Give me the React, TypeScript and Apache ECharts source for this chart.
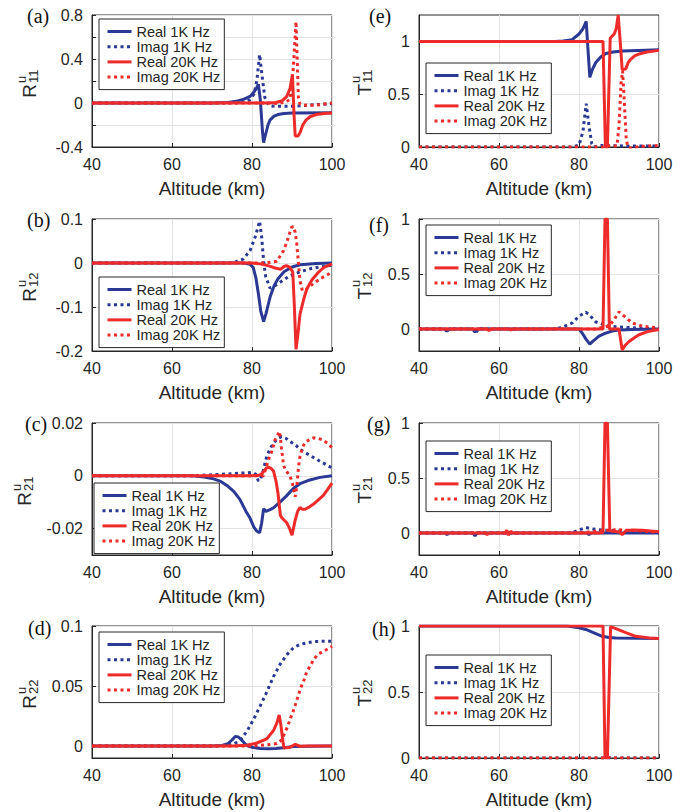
import React, { useEffect, useRef } from "react";
import * as echarts from "echarts";

// ---------- data (altitude km, value) ----------
const SERIES_NAMES = ["Real 1K Hz", "Imag 1K Hz", "Real 20K Hz", "Imag 20K Hz"];
const X_MIN = 40;
const X_MAX = 100;
const X_STEP = 20;

// (a) R11
const R11_re1k = [[40,0],[70,0],[74,0.005],[76,0.015],[78,0.035],[79.5,0.06],[80.5,0.1],[81.2,0.14],[81.6,0.17],[82.1,0.02],[82.6,-0.25],[82.9,-0.36],[83.3,-0.3],[84,-0.2],[84.5,-0.155],[85.5,-0.12],[86.5,-0.105],[88,-0.095],[90,-0.09],[100,-0.088]];
const R11_im1k = [[40,0],[76,0],[78,0.01],[79.5,0.03],[80.5,0.08],[81.2,0.2],[81.9,0.44],[82.5,0.25],[83.2,0.05],[83.8,0],[84.5,-0.025],[86,-0.03],[90,-0.03],[92,-0.025],[96,-0.015],[100,-0.005]];
const R11_re20k = [[40,0],[84,0],[86,0.005],[87.5,0.02],[88.7,0.06],[89.5,0.13],[90.1,0.26],[90.5,-0.1],[90.8,-0.3],[91.5,-0.3],[92,-0.27],[92.7,-0.2],[93.5,-0.155],[94.5,-0.125],[96,-0.105],[98,-0.095],[100,-0.09]];
const R11_im20k = [[40,0],[85,0],[86.5,-0.005],[88,0.005],[89.5,0.03],[90.3,0.3],[91,0.74],[91.6,0.05],[92,-0.01],[93,-0.02],[96,-0.02],[98,-0.01],[100,0]];
const R11_yTicks = [-0.4,-0.2,0,0.2,0.4,0.6,0.8];
const R11_yLabels = [-0.4,0,0.4,0.8];

// (b) R12
const R12_re1k = [[40,0],[78,0],[79.5,-0.003],[80.3,-0.01],[81,-0.035],[81.6,-0.07],[82.2,-0.11],[82.9,-0.133],[83.5,-0.115],[84.5,-0.078],[85.5,-0.052],[86.5,-0.036],[88,-0.02],[90,-0.009],[92,-0.004],[96,-0.001],[100,0]];
const R12_im1k = [[40,0],[74,0],[76,0.003],[77.8,0.009],[79.5,0.028],[80.8,0.059],[81.9,0.095],[82.4,0.06],[82.9,0.005],[83.4,-0.03],[84.5,-0.057],[85.5,-0.053],[87,-0.044],[89.5,-0.029],[92,-0.02],[95,-0.012],[100,-0.005]];
const R12_re20k = [[40,0],[80,0],[82,-0.002],[84,-0.006],[86,-0.012],[87.2,-0.014],[88,-0.008],[88.6,-0.006],[89.5,-0.01],[90.2,-0.021],[90.6,-0.1],[91,-0.196],[91.5,-0.16],[92,-0.116],[93,-0.08],[93.7,-0.059],[95,-0.038],[96.5,-0.022],[98,-0.01],[100,-0.002]];
const R12_im20k = [[40,0],[82,0],[84,0.001],[86.2,0.004],[87.9,0.028],[89,0.055],[89.8,0.08],[90.3,0.083],[90.8,0.07],[91.2,0.043],[91.7,-0.01],[92,-0.04],[92.6,-0.063],[93.5,-0.06],[94.6,-0.052],[97,-0.036],[100,-0.021]];
const R12_yTicks = [-0.2,-0.1,0,0.1];
const R12_yLabels = [-0.2,-0.1,0,0.1];

// (c) R21
const R21_re1k = [[40,0],[65,0],[68,-0.0005],[70,-0.001],[72,-0.002],[74,-0.004],[75.5,-0.006],[77,-0.009],[78.5,-0.0135],[79.5,-0.016],[80.5,-0.0195],[81.2,-0.021],[81.9,-0.0215],[82.4,-0.018],[82.9,-0.0125],[83.5,-0.0135],[84.5,-0.0128],[85.5,-0.012],[87,-0.01],[88.5,-0.0078],[90.4,-0.0047],[92,-0.003],[94,-0.0018],[97,-0.0006],[100,0]];
const R21_im1k = [[40,0],[65,0],[70,0.0004],[75,0.0008],[80.3,0.0013],[81,0.0005],[81.6,-0.002],[82.2,-0.001],[82.8,0.002],[83.7,0.0074],[84.6,0.0105],[85.4,0.0125],[86.5,0.0142],[87.4,0.0148],[88.5,0.0142],[89.5,0.013],[91,0.0115],[92,0.01],[94.6,0.0076],[97,0.0055],[100,0.003]];
const R21_re20k = [[40,0],[80,0],[81.8,0.0002],[82.6,0.001],[83.5,0.0028],[84.1,0.0033],[84.8,0.0028],[85.4,0.0017],[86,-0.002],[86.5,-0.0066],[87.1,-0.015],[87.5,-0.016],[88.7,-0.0178],[89.4,-0.02],[90,-0.0225],[90.8,-0.0168],[91.4,-0.0135],[92,-0.012],[92.6,-0.0127],[93.3,-0.0127],[94.3,-0.0118],[95.4,-0.0107],[96.8,-0.0088],[97.9,-0.0073],[100,-0.0028]];
const R21_im20k = [[40,0],[80,0],[82.9,0],[83.5,0.003],[84.1,0.006],[85,0.0095],[85.8,0.0138],[86.9,0.0168],[87.4,0.01],[87.9,0.004],[88.3,0.0023],[89.5,0],[90.3,-0.004],[90.8,-0.0079],[91.2,-0.004],[91.6,0.003],[92,0.0074],[92.7,0.011],[93.3,0.0127],[94.5,0.0138],[95.4,0.0144],[96.5,0.0142],[97.5,0.0137],[99,0.0122],[100,0.0106]];
const R21_yTicks = [-0.02,0,0.02];
const R21_yLabels = [-0.02,0,0.02];

// (d) R22
const R22_re1k = [[40,0],[70,0],[72.5,0.0005],[74,0.002],[75,0.005],[75.8,0.008],[76.6,0.0075],[77.4,0.005],[78.2,0.002],[79,0],[80.3,-0.0012],[82,-0.002],[84,-0.0022],[86,-0.002],[88,-0.0015],[90.4,-0.0005],[94,-0.0002],[100,0]];
const R22_im1k = [[40,0],[72,0],[74,0.0005],[75.3,0.0014],[77,0.0048],[78.7,0.012],[80.3,0.0216],[82,0.033],[83.7,0.045],[85.4,0.058],[87,0.068],[88.7,0.076],[90.4,0.082],[92,0.0846],[93.7,0.086],[95.4,0.087],[97.5,0.0873],[100,0.0874]];
const R22_re20k = [[40,0],[75,0],[78.7,0.0006],[81.2,0.0025],[83.7,0.006],[85.4,0.013],[86.2,0.019],[86.8,0.0258],[87.2,0.018],[87.5,0.01],[87.8,0.002],[88,-0.0017],[89.5,-0.001],[90.8,0.0014],[92,-0.0002],[94,0],[100,0]];
const R22_im20k = [[40,0],[80,0],[83.7,0.001],[86.2,0.002],[87.4,0.005],[88.7,0.0146],[89.5,0.022],[90.4,0.03],[91.2,0.038],[92,0.0468],[93,0.055],[93.7,0.062],[94.6,0.067],[95.4,0.072],[96.5,0.0765],[97.9,0.079],[99,0.081],[100,0.083]];
const R22_yTicks = [0,0.05,0.1];
const R22_yLabels = [0,0.05,0.1];

// (e) T11
const T11_re1k = [[40,1],[74,1],[76,1.003],[78.3,1.016],[80,1.07],[81,1.12],[81.8,1.19],[82.2,0.95],[82.7,0.66],[83.3,0.73],[84.2,0.8],[85.5,0.855],[86.7,0.885],[88.5,0.9],[90.8,0.91],[95,0.915],[100,0.92]];
const T11_im1k = [[40,0],[78,0],[80,0.016],[81,0.15],[81.8,0.41],[82.5,0.2],[83.2,0.03],[83.8,0],[85,0.015],[88,0.012],[92,0.01],[100,0.01]];
const T11_re20k = [[40,1],[86,1],[86.6,0],[87.1,0],[87.8,1.03],[88.8,1.07],[89.3,1.12],[89.8,1.25],[90.3,1.0],[90.8,0.73],[91.7,0.74],[92.3,0.8],[92.9,0.83],[94,0.865],[95,0.88],[97,0.9],[100,0.915]];
const T11_im20k = [[40,0],[86,0],[86.5,0.01],[88,0.01],[89.5,0.01],[90,0.2],[90.5,0.6],[90.9,0.72],[91.3,0.45],[91.8,0.08],[92.2,0],[93,-0.01],[95,0.005],[100,0.015]];
const T11_yTicks = [0,0.5,1];
const T11_yLabels = [0,0.5,1];

// (f) T12
const T12_re1k = [[40,0],[46.5,0],[47,-0.02],[47.5,0],[53.5,0],[54,-0.03],[54.5,0],[80,0],[80.8,-0.037],[81.7,-0.09],[82.7,-0.138],[83.5,-0.11],[85,-0.065],[86.5,-0.04],[88.3,-0.018],[90,-0.01],[93.3,-0.005],[100,0]];
const T12_im1k = [[40,0],[46.5,0],[47,-0.03],[48,0.015],[49,0],[53.5,0],[54.2,-0.04],[55,0.01],[56,0],[74,0],[75.8,0.015],[78.3,0.055],[80,0.117],[81.7,0.153],[82.5,0.132],[84.2,0.064],[86.7,0.034],[89.2,0.02],[94.2,0.01],[100,0]];
const T12_re20k = [[40,0],[57,0],[57.5,-0.015],[58,0],[86,0],[86.5,1],[87.1,1],[87.6,0],[90,0],[90.8,-0.19],[91.5,-0.15],[92.5,-0.113],[94,-0.075],[95,-0.052],[97.5,-0.02],[100,-0.005]];
const T12_im20k = [[40,0],[62.5,0],[63,-0.01],[63.5,0.01],[64,0],[84,0],[85.8,0.015],[87.5,0.025],[88.8,0.086],[90,0.156],[91.3,0.117],[93.3,0.055],[95.8,0.025],[100,0.01]];
const T12_yTicks = [0,0.5,1];
const T12_yLabels = [0,0.5,1];

// (g) T21
const T21_re1k = [[40,0],[46.5,0],[47,-0.015],[47.5,0],[53.5,0],[54,-0.025],[54.5,0],[82,0],[82.5,-0.015],[83,0],[100,0]];
const T21_im1k = [[40,0],[47.5,0],[48,0.012],[48.5,0],[54.5,0],[55,0.005],[55.5,0],[78,0],[80,0.027],[81.7,0.05],[83.3,0.037],[85.8,0.027],[89.2,0.02],[93.3,0.012],[100,0]];
const T21_re20k = [[40,0],[56.5,0],[57,-0.015],[57.5,0],[61.5,0],[62,0.025],[62.3,-0.02],[62.6,0],[85,0],[86,0.005],[86.5,1],[87.1,1],[87.7,0.02],[90,0.01],[90.8,-0.015],[91.7,0.02],[93.3,0.027],[95.8,0.025],[100,0.012]];
const T21_im20k = [[40,0],[62.5,0],[63,0.015],[63.5,0],[80,0],[84,0.015],[87,0.025],[90,0.03],[92,0.025],[95,0.02],[100,0.005]];
const T21_yTicks = [0,0.5,1];
const T21_yLabels = [0,0.5,1];

// (h) T22
const T22_re1k = [[40,1],[77,1],[80,0.987],[81.7,0.974],[83.75,0.948],[85.8,0.922],[87.5,0.913],[89.2,0.91],[100,0.905]];
const T22_im1k = [[40,0],[70,0],[100,0]];
const T22_re20k = [[40,1],[86,1],[86.5,0],[87.1,0],[87.9,0.995],[89.2,0.98],[91.7,0.95],[94.2,0.922],[97.5,0.91],[100,0.905]];
const T22_im20k = [[40,0],[87,0],[87.5,0.005],[88,0],[100,0]];
const T22_yTicks = [0,0.5,1];
const T22_yLabels = [0,0.5,1];

// ---------- styling / layout ----------
const BLUE = "#2B3894";
const RED = "#EE2B2B";
const AX = "#262626";
const GRIDC = "#E3E3E3";
const FONT = "'Liberation Sans', Arial, Helvetica, sans-serif";
const SERIF = "'Liberation Serif', 'Times New Roman', serif";

const COL_LEFT = [92, 419];
const ROW_TOP = [15, 219, 423, 626];
const PW = 240;
const PH = 132;

const panels = [
  { tag: "(a)", letter: "R", sub: "11", col: 0, row: 0, data: [R11_re1k, R11_im1k, R11_re20k, R11_im20k], yMin: -0.4, yMax: 0.8, ticks: R11_yTicks, labels: R11_yLabels, legend: [99, 19], tagPos: [27, 15.5], labX: 29.5 },
  { tag: "(b)", letter: "R", sub: "12", col: 0, row: 1, data: [R12_re1k, R12_im1k, R12_re20k, R12_im20k], yMin: -0.2, yMax: 0.1, ticks: R12_yTicks, labels: R12_yLabels, legend: [99, 277], tagPos: [27, 220], labX: 29.5 },
  { tag: "(c)", letter: "R", sub: "21", col: 0, row: 2, data: [R21_re1k, R21_im1k, R21_re20k, R21_im20k], yMin: -0.03, yMax: 0.02, ticks: R21_yTicks, labels: R21_yLabels, legend: [94, 483], tagPos: [25, 423.5], labX: 24.5 },
  { tag: "(d)", letter: "R", sub: "22", col: 0, row: 3, data: [R22_re1k, R22_im1k, R22_re20k, R22_im20k], yMin: -0.01, yMax: 0.1, ticks: R22_yTicks, labels: R22_yLabels, legend: [99, 632], tagPos: [28, 627.5], labX: 29.5 },
  { tag: "(e)", letter: "T", sub: "11", col: 1, row: 0, data: [T11_re1k, T11_im1k, T11_re20k, T11_im20k], yMin: 0, yMax: 1.25, ticks: T11_yTicks, labels: T11_yLabels, legend: [426, 63], tagPos: [369, 15.5], labX: 364 },
  { tag: "(f)", letter: "T", sub: "12", col: 1, row: 1, data: [T12_re1k, T12_im1k, T12_re20k, T12_im20k], yMin: -0.2, yMax: 1, ticks: T12_yTicks, labels: T12_yLabels, legend: [426, 225], tagPos: [369, 225], labX: 364 },
  { tag: "(g)", letter: "T", sub: "21", col: 1, row: 2, data: [T21_re1k, T21_im1k, T21_re20k, T21_im20k], yMin: -0.2, yMax: 1, ticks: T21_yTicks, labels: T21_yLabels, legend: [426, 441], tagPos: [367, 424], labX: 364 },
  { tag: "(h)", letter: "T", sub: "22", col: 1, row: 3, data: [T22_re1k, T22_im1k, T22_re20k, T22_im20k], yMin: 0, yMax: 1, ticks: T22_yTicks, labels: T22_yLabels, legend: [426, 655], tagPos: [372, 629], labX: 364 },
];

function buildOption() {
  const grid: any[] = [];
  const xAxis: any[] = [];
  const yAxis: any[] = [];
  const series: any[] = [];
  const legend: any[] = [];
  const graphic: any[] = [];

  panels.forEach((p, i) => {
    const left = COL_LEFT[p.col];
    const top = ROW_TOP[p.row];
    grid.push({ left, top, width: PW, height: PH, show: true, borderColor: AX, borderWidth: 1, backgroundColor: "transparent" });
    xAxis.push({
      type: "value", gridIndex: i, min: X_MIN, max: X_MAX, interval: X_STEP,
      name: "Altitude (km)", nameLocation: "middle", nameGap: 32,
      nameTextStyle: { fontSize: 19, color: AX, fontFamily: FONT },
      axisLine: { show: true, onZero: false, lineStyle: { color: AX, width: 1 } },
      axisTick: { show: true, inside: true, length: 4, lineStyle: { color: AX } },
      axisLabel: { fontSize: 16, color: AX, margin: 9, fontFamily: FONT },
      splitLine: { show: true, lineStyle: { color: GRIDC, width: 1 } },
    });
    yAxis.push({
      type: "value", gridIndex: i, min: p.yMin, max: p.yMax,
      axisLine: { show: true, onZero: false, lineStyle: { color: AX, width: 1 } },
      axisTick: { show: true, inside: true, length: 4, lineStyle: { color: AX }, customValues: p.ticks },
      axisLabel: { fontSize: 16, color: AX, margin: 9, fontFamily: FONT, customValues: p.labels },
      splitLine: { show: true, lineStyle: { color: GRIDC, width: 1 } },
    });
    p.data.forEach((d, j) => {
      const color = j < 2 ? BLUE : RED;
      series.push({
        type: "line", name: SERIES_NAMES[j], xAxisIndex: i, yAxisIndex: i, data: d,
        symbol: "none", showSymbol: false, color, clip: true, z: 3 + j,
        lineStyle: { color, width: 3, type: j % 2 === 1 ? [3, 3.5] : "solid", cap: "butt" },
        itemStyle: { color },
      });
    });
    legend.push({
      orient: "vertical", left: p.legend[0], top: p.legend[1], data: SERIES_NAMES, selectedMode: false,
      itemWidth: 24, itemHeight: 12, itemGap: 0.2, padding: [5, 4, 5, 7],
      borderColor: AX, borderWidth: 1, backgroundColor: "#fff", borderRadius: 0,
      textStyle: { fontSize: 14.5, color: AX, fontFamily: FONT, lineHeight: 15, padding: [0, 0, 0, 0] },
      lineStyle: { width: 3 },
      itemStyle: { color: "rgba(0,0,0,0)", borderWidth: 0, opacity: 0 },
      z: 10,
    });
    graphic.push({
      type: "text", x: p.tagPos[0], y: p.tagPos[1], z: 20,
      style: { text: p.tag, font: `20px ${SERIF}`, fill: "#111", textAlign: "left", textVerticalAlign: "middle", align: "left", verticalAlign: "middle" },
    });
    const gy = top + PH / 2 + 3;
    graphic.push({
      type: "group", x: p.labX, y: gy, rotation: Math.PI / 2, z: 20,
      children: [
        { type: "text", x: 0, y: 0, style: { text: p.letter, font: `19px ${FONT}`, fill: AX, textAlign: "right", textVerticalAlign: "middle", align: "right", verticalAlign: "middle" } },
        { type: "text", x: 1, y: -8.5, style: { text: "u", font: `13px ${FONT}`, fill: AX, textAlign: "left", textVerticalAlign: "middle", align: "left", verticalAlign: "middle" } },
        { type: "text", x: 1, y: 3.5, style: { text: p.sub, font: `13px ${FONT}`, fill: AX, textAlign: "left", textVerticalAlign: "middle", align: "left", verticalAlign: "middle" } },
      ],
    });
  });

  return {
    animation: false,
    backgroundColor: "#fff",
    grid, xAxis, yAxis, series, legend, graphic,
  };
}

export default function App() {
  const ref = useRef<HTMLDivElement>(null);
  useEffect(() => {
    if (!ref.current) return;
    const chart = echarts.init(ref.current, null, { renderer: "svg" });
    chart.setOption(buildOption() as any);
    return () => chart.dispose();
  }, []);
  return <div ref={ref} style={{ position: "fixed", left: 0, top: 0, width: 698, height: 812, background: "#fff" }} />;
}
